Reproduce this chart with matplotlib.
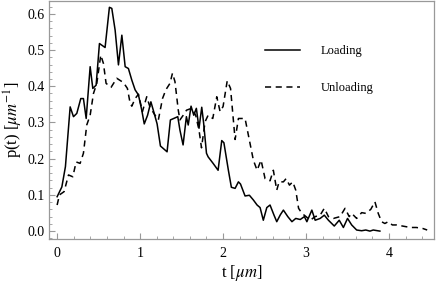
import matplotlib
matplotlib.use('Agg')
import matplotlib.pyplot as plt
from matplotlib.ticker import MultipleLocator

plt.rcParams['font.family'] = ['Liberation Serif', 'DejaVu Serif']
plt.rcParams['mathtext.fontset'] = 'stix'

# loading curve
t_load = [0.00, 0.057, 0.10, 0.157, 0.197, 0.237, 0.285, 0.317, 0.35, 0.398,
          0.43, 0.47, 0.51, 0.578, 0.63, 0.659, 0.699, 0.739, 0.78, 0.82,
          0.859, 0.90, 0.94, 0.98, 1.02, 1.05, 1.09, 1.13, 1.17, 1.205,
          1.245, 1.325, 1.365, 1.405, 1.454, 1.48, 1.518, 1.558, 1.58, 1.614,
          1.647, 1.678, 1.71, 1.743, 1.765, 1.80, 1.82, 1.88, 1.94, 1.984,
          2.01, 2.064, 2.10, 2.145, 2.185, 2.21, 2.265, 2.317, 2.365, 2.41,
          2.446, 2.485, 2.527, 2.566, 2.614, 2.647, 2.69, 2.727, 2.78, 2.83,
          2.876, 2.93, 2.98, 3.01, 3.07, 3.11, 3.17, 3.22, 3.27, 3.34,
          3.40, 3.45, 3.50, 3.55, 3.61, 3.67, 3.72, 3.77, 3.81, 3.89]
p_load = [0.095, 0.122, 0.178, 0.343, 0.316, 0.325, 0.366, 0.366, 0.311, 0.454,
          0.394, 0.403, 0.518, 0.507, 0.618, 0.615, 0.555, 0.459, 0.541, 0.454,
          0.449, 0.417, 0.39, 0.376, 0.334, 0.296, 0.32, 0.357, 0.325, 0.296,
          0.235, 0.219, 0.307, 0.311, 0.316, 0.279, 0.238, 0.316, 0.293, 0.345,
          0.32, 0.339, 0.284, 0.342, 0.30, 0.215, 0.205, 0.187, 0.168, 0.25,
          0.244, 0.168, 0.121, 0.118, 0.136, 0.13, 0.097, 0.099, 0.086, 0.072,
          0.065, 0.03, 0.065, 0.072, 0.044, 0.026, 0.045, 0.058, 0.04, 0.026,
          0.035, 0.032, 0.04, 0.026, 0.058, 0.03, 0.035, 0.044, 0.03, 0.014,
          0.03, 0.01, 0.035, 0.017, 0.003, 0.001, 0.003, 0.0, 0.003, 0.0]

# unloading curve
t_unload = [0.0, 0.028, 0.084, 0.137, 0.189, 0.229, 0.277, 0.317, 0.357, 0.398,
            0.438, 0.478, 0.526, 0.558, 0.59, 0.65, 0.719, 0.80, 0.847, 0.88,
            0.90, 0.94, 0.98, 1.028, 1.08, 1.12, 1.18, 1.22, 1.27, 1.31,
            1.36, 1.39, 1.42, 1.46, 1.48, 1.52, 1.56, 1.62, 1.67, 1.71,
            1.74, 1.783, 1.82, 1.876, 1.924, 1.964, 2.0, 2.05, 2.09, 2.145,
            2.185, 2.265, 2.325, 2.365, 2.41, 2.458, 2.506, 2.566, 2.606, 2.647,
            2.675, 2.727, 2.76, 2.80, 2.84, 2.876, 2.91, 2.95, 3.0, 3.05,
            3.11, 3.17, 3.22, 3.27, 3.33, 3.41, 3.47, 3.52, 3.55, 3.61,
            3.67, 3.72, 3.78, 3.83, 3.87, 3.91, 3.95, 3.99, 4.04, 4.09,
            4.21, 4.27, 4.33, 4.41, 4.46]
p_unload = [0.072, 0.10, 0.109, 0.155, 0.15, 0.191, 0.187, 0.215, 0.293, 0.32,
            0.38, 0.408, 0.486, 0.463, 0.408, 0.397, 0.422, 0.41, 0.394, 0.353,
            0.345, 0.366, 0.378, 0.33, 0.371, 0.342, 0.32, 0.307, 0.366, 0.39,
            0.408, 0.436, 0.413, 0.334, 0.307, 0.32, 0.334, 0.339, 0.32, 0.279,
            0.23, 0.302, 0.32, 0.311, 0.371, 0.33, 0.344, 0.415, 0.394, 0.253,
            0.311, 0.311, 0.242, 0.196, 0.168, 0.196, 0.145, 0.139, 0.168, 0.113,
            0.136, 0.136, 0.145, 0.127, 0.136, 0.113, 0.063, 0.049, 0.04, 0.03,
            0.04, 0.044, 0.063, 0.04, 0.035, 0.04, 0.063, 0.04, 0.049, 0.035,
            0.051, 0.049, 0.06, 0.081, 0.049, 0.026, 0.021, 0.026, 0.017, 0.017,
            0.012, 0.01, 0.01, 0.007, 0.003]

x_ticks = [0, 1, 2, 3, 4]
y_ticks = [0.0, 0.1, 0.2, 0.3, 0.4, 0.5, 0.6]

fig = plt.figure(figsize=(4.36, 2.87), dpi=100)
ax = fig.add_axes([0.112, 0.167, 0.883, 0.829])

ax.plot(t_load, p_load, color='black', lw=1.1, label='Loading')
ax.plot(t_unload, p_unload, color='black', lw=1.1, linestyle=(0, (4, 3)),
        label='Unloading')

ax.set_xlim(-0.1, 4.54)
ax.set_ylim(-0.022, 0.635)
ax.set_xticks(x_ticks)
ax.set_yticks(y_ticks)
ax.set_yticklabels(['%.1f' % v for v in y_ticks])
ax.xaxis.set_minor_locator(MultipleLocator(0.2))
ax.yaxis.set_minor_locator(MultipleLocator(0.02))

gray = '#999999'
for s in ax.spines.values():
    s.set_color(gray)
    s.set_linewidth(0.9)
ax.tick_params(which='both', direction='in', color=gray, top=False, right=False,
               labelsize=10, labelcolor='black')
ax.tick_params(axis='y', pad=3)
ax.tick_params(axis='x', pad=6)
ax.tick_params(which='major', length=4)
ax.tick_params(which='minor', length=2)

ax.set_xlabel(r't [$\mu m$]', fontsize=12, labelpad=2)
ax.set_ylabel(r'p(t) [$\mu m^{\mathrm{-1}}$]', fontsize=12, labelpad=2)

ax.legend(loc='upper left', bbox_to_anchor=(0.561, 0.815), frameon=False,
          fontsize=9, handlelength=2.8, handletextpad=1.7, labelspacing=2.0,
          borderpad=0, borderaxespad=0)

fig.savefig('out.png', dpi=100)
